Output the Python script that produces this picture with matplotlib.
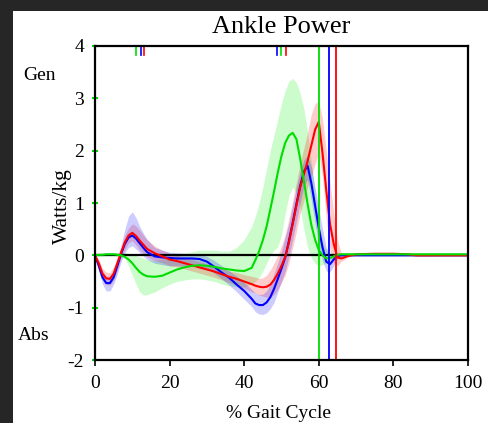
import matplotlib
matplotlib.use("Agg")
import matplotlib.pyplot as plt
from matplotlib.patches import Rectangle

plt.rcParams['font.family'] = ['Liberation Serif', 'DejaVu Serif']

# % gait cycle sample points
pct = [0, 1, 2, 3, 4, 5, 6, 7, 8, 9, 10, 11, 12, 13, 14, 16, 18, 20, 22, 24, 26, 28,
       30, 32, 34, 36, 38, 40, 42, 43, 44, 45, 46, 47, 48, 49, 50, 51, 52, 53, 54, 55,
       56, 57, 58, 59, 60, 61, 62, 63, 64, 65, 66, 68, 70, 75, 80, 84, 86, 90, 95, 100]

# mean ankle power (W/kg)
blue_mean = [0, -0.2, -0.42, -0.53, -0.53, -0.42, -0.2, 0.03, 0.22, 0.34, 0.38, 0.32, 0.23, 0.14, 0.06,
             -0.02, -0.04, -0.05, -0.06, -0.06, -0.06, -0.07, -0.12, -0.22, -0.33, -0.43, -0.56, -0.68,
             -0.83, -0.92, -0.95, -0.95, -0.9, -0.8, -0.64, -0.45, -0.25, -0.04, 0.28, 0.62, 0.98, 1.32,
             1.6, 1.71, 1.38, 0.95, 0.52, 0.15, -0.12, -0.17, -0.08, -0.01, 0.0, 0.0, 0.0, 0.0, 0.0,
             0.0, 0.0, 0.0, 0.0, 0.0]
red_mean = [0, -0.15, -0.35, -0.44, -0.45, -0.35, -0.15, 0.05, 0.25, 0.38, 0.43, 0.37, 0.28, 0.2, 0.12,
            0.04, -0.02, -0.08, -0.11, -0.15, -0.19, -0.23, -0.27, -0.31, -0.36, -0.41, -0.45, -0.5,
            -0.55, -0.58, -0.6, -0.61, -0.6, -0.56, -0.47, -0.35, -0.2, -0.03, 0.25, 0.6, 0.95, 1.3,
            1.55, 1.8, 2.1, 2.4, 2.55, 1.95, 1.25, 0.6, 0.22, -0.04, -0.06, -0.01, 0.02, 0.03, 0.03,
            0.02, 0.0, 0.0, 0.0, 0.0]
green_mean = [0, 0.01, 0.01, 0.02, 0.02, 0.02, 0.01, 0.0, -0.03, -0.08, -0.15, -0.24, -0.32, -0.37, -0.4,
              -0.41, -0.39, -0.33, -0.27, -0.23, -0.2, -0.19, -0.2, -0.22, -0.25, -0.27, -0.29, -0.3,
              -0.24, -0.09, 0.08, 0.29, 0.55, 0.88, 1.22, 1.58, 1.9, 2.15, 2.29, 2.34, 2.22, 1.85,
              1.42, 0.98, 0.58, 0.3, 0.1, 0.0, -0.06, -0.05, -0.02, 0.01, 0.02, 0.02, 0.02, 0.02, 0.02,
              0.02, 0.02, 0.02, 0.02, 0.02]

# variability bands (upper / lower)
blue_hi = [0, -0.12, -0.3, -0.4, -0.4, -0.28, -0.05, 0.2, 0.5, 0.75, 0.83, 0.72, 0.55, 0.42, 0.3,
           0.15, 0.1, 0.06, 0.05, 0.04, 0.03, 0.02, -0.02, -0.1, -0.2, -0.3, -0.4, -0.52,
           -0.65, -0.72, -0.75, -0.74, -0.68, -0.55, -0.35, -0.15, 0.08, 0.35, 0.62, 0.95, 1.3, 1.6,
           1.82, 1.92, 1.7, 1.3, 0.9, 0.5, 0.15, 0.02, 0.02, 0.02, 0.01, 0.0, 0.0, 0.0, 0.0,
           0.0, 0.0, 0.0, 0.0, 0.0]
blue_lo = [0, -0.28, -0.55, -0.68, -0.68, -0.55, -0.35, -0.12, 0.05, 0.15, 0.18, 0.12, 0.05, -0.02, -0.08,
           -0.15, -0.18, -0.2, -0.2, -0.21, -0.2, -0.2, -0.25, -0.34, -0.45, -0.57, -0.7, -0.84,
           -0.98, -1.08, -1.12, -1.13, -1.1, -1.02, -0.9, -0.7, -0.5, -0.3, -0.02, 0.3, 0.65, 1.0,
           1.32, 1.45, 1.05, 0.6, 0.2, -0.1, -0.3, -0.32, -0.2, -0.06, -0.01, 0.0, 0.0, 0.0, 0.0,
           0.0, 0.0, 0.0, 0.0, 0.0]
red_hi = [0, -0.08, -0.25, -0.32, -0.33, -0.22, -0.02, 0.15, 0.38, 0.52, 0.6, 0.56, 0.48, 0.38, 0.3,
          0.18, 0.1, 0.04, 0.0, -0.04, -0.08, -0.12, -0.16, -0.2, -0.25, -0.3, -0.33, -0.37,
          -0.4, -0.42, -0.44, -0.43, -0.38, -0.28, -0.15, 0.0, 0.18, 0.4, 0.7, 1.05, 1.4, 1.75,
          2.05, 2.35, 2.7, 2.9, 2.95, 2.6, 2.0, 1.4, 0.8, 0.3, 0.05, 0.03, 0.04, 0.05, 0.05,
          0.04, 0.01, 0.0, 0.0, 0.0]
red_lo = [0, -0.22, -0.45, -0.56, -0.57, -0.48, -0.28, -0.05, 0.12, 0.24, 0.28, 0.2, 0.1, 0.03, -0.03,
          -0.1, -0.14, -0.2, -0.22, -0.26, -0.3, -0.34, -0.38, -0.42, -0.47, -0.52, -0.57, -0.63,
          -0.7, -0.72, -0.76, -0.78, -0.8, -0.8, -0.75, -0.65, -0.52, -0.38, -0.15, 0.15, 0.45, 0.8,
          1.05, 1.3, 1.5, 1.75, 1.95, 1.5, 0.7, 0.1, -0.15, -0.2, -0.12, -0.03, 0.0, 0.01, 0.01,
          0.0, -0.01, -0.01, 0.0, 0.0]
green_hi = [0.02, 0.03, 0.04, 0.05, 0.05, 0.05, 0.05, 0.05, 0.05, 0.04, 0.02, 0.0, -0.03, -0.06, -0.08,
            -0.1, -0.08, -0.04, 0.0, 0.04, 0.07, 0.1, 0.1, 0.1, 0.08, 0.08, 0.15, 0.3,
            0.55, 0.75, 1.0, 1.3, 1.65, 2.0, 2.3, 2.6, 2.9, 3.15, 3.33, 3.38, 3.3, 3.1,
            2.8, 2.35, 1.8, 1.2, 0.6, 0.25, 0.1, 0.05, 0.05, 0.04, 0.03, 0.03, 0.03, 0.03, 0.03,
            0.03, 0.03, 0.03, 0.03, 0.03]
green_lo = [-0.02, -0.02, -0.02, -0.01, -0.01, -0.01, -0.02, -0.03, -0.06, -0.2, -0.38, -0.55, -0.7, -0.76, -0.75,
            -0.7, -0.62, -0.55, -0.5, -0.47, -0.45, -0.45, -0.47, -0.5, -0.55, -0.58, -0.6, -0.6,
            -0.55, -0.5, -0.42, -0.3, -0.15, 0.0, 0.1, 0.16, 0.4, 0.8, 1.15, 1.3, 1.2, 0.9,
            0.5, 0.15, -0.05, -0.15, -0.2, -0.18, -0.15, -0.1, -0.05, 0.0, 0.01, 0.01, 0.01, 0.01, 0.01,
            0.01, 0.01, 0.01, 0.01, 0.01]

# toe-off events and top-edge event markers (% gait cycle)
toe_off = {'green': 60.1, 'blue': 62.8, 'red': 64.5}
markers = {'green': [11.1, 50.0], 'blue': [12.3, 48.9], 'red': [13.2, 51.2]}

x_ticks = [0, 20, 40, 60, 80, 100]
y_ticks = [-2, -1, 0, 1, 2, 3, 4]

C = {'blue': '#0000ff', 'red': '#ff0000', 'green': '#00dd00'}
BAND = {'blue': '#0000ff', 'red': '#ff0000', 'green': '#00ee00'}

W, H = 489, 423
fig = plt.figure(figsize=(W / 100, H / 100), dpi=100, facecolor='#262626')
fig.patches.append(Rectangle((13 / W, 0), 1 - 13 / W, 1 - 11 / H, transform=fig.transFigure,
                             facecolor='white', edgecolor='none', zorder=-10))

ax = fig.add_axes([95 / W, 1 - 360 / H, (468 - 95) / W, (360 - 46) / H])
ax.set_zorder(2)
ax.patch.set_alpha(0)
ax.set_xlim(0, 100)
ax.set_ylim(-2, 4)

for name, lo, hi in [('green', green_lo, green_hi), ('red', red_lo, red_hi), ('blue', blue_lo, blue_hi)]:
    ax.fill_between(pct, lo, hi, color=BAND[name], alpha=0.2, linewidth=0, zorder=1)

ax.axhline(0, color='black', lw=1.6, zorder=2)

for name, y in [('blue', blue_mean), ('red', red_mean), ('green', green_mean)]:
    ax.plot(pct, y, color=C[name], lw=1.5, zorder=3)

for name, xv in toe_off.items():
    ax.axvline(xv, color=C[name], lw=1.3, zorder=4)
for name, xs in markers.items():
    for xv in xs:
        ax.plot([xv, xv], [4, 3.83], color=C[name], lw=1.2, zorder=4, clip_on=False)

for s in ax.spines.values():
    s.set_linewidth(1.6)
    s.set_color('black')
    s.set_zorder(5)

ax.set_xticks(x_ticks)
ax.set_xticklabels([str(v) for v in x_ticks])
ax.set_yticks(y_ticks)
ax.set_yticklabels([str(v) for v in y_ticks])
ax.tick_params(axis='x', direction='out', length=4, width=1.2, color='black', pad=7, labelsize=14)
ax.tick_params(axis='y', direction='inout', length=4, width=1.5, color='#00dd00', pad=6, labelsize=14)

fig.text(281 / W, 1 - 27 / H, 'Ankle Power', ha='center', va='center', fontsize=19)
fig.text(279 / W, 1 - 413 / H, '% Gait Cycle', ha='center', va='center', fontsize=14)
fig.text(62 / W, 1 - 206 / H, 'Watts/kg', ha='center', va='center', rotation=90, fontsize=15.5)
fig.text(40 / W, 1 - 75 / H, 'Gen', ha='center', va='center', fontsize=14)
fig.text(34 / W, 1 - 335 / H, 'Abs', ha='center', va='center', fontsize=14)

fig.savefig('out.png', dpi=100, facecolor=fig.get_facecolor())
